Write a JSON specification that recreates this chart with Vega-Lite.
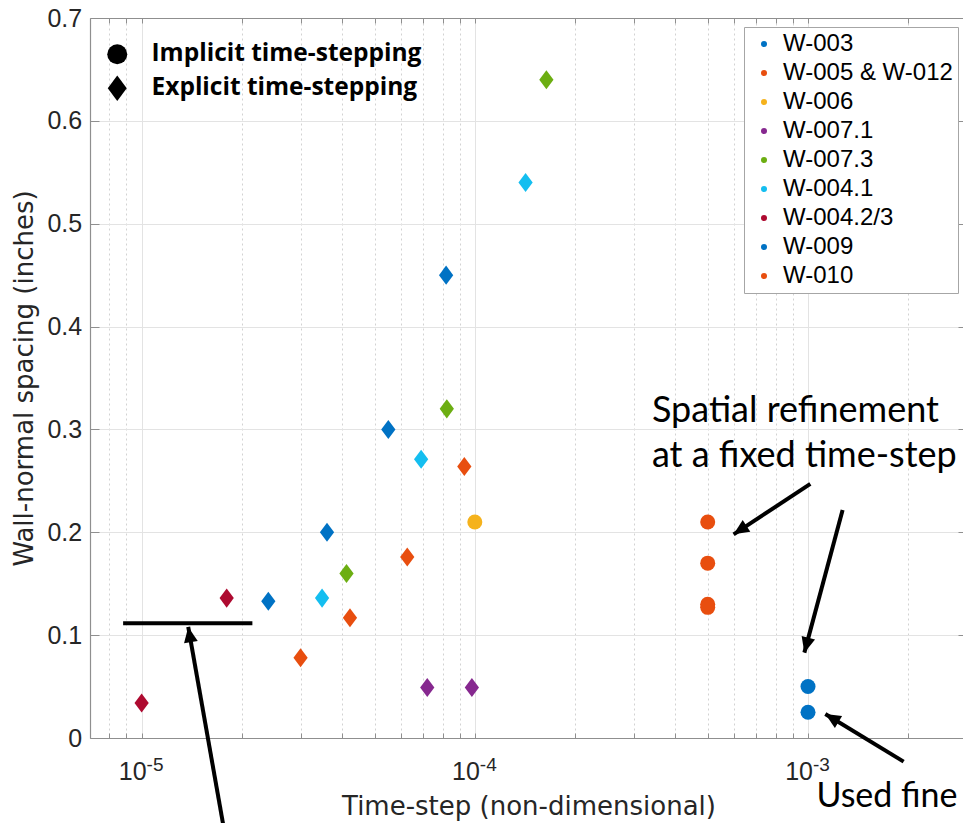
{
  "$schema": "https://vega.github.io/schema/vega-lite/v6.json",
  "width": 877,
  "height": 720,
  "autosize": {"type": "none"},
  "padding": {"left": 90, "top": 18, "right": 0, "bottom": 85},
  "background": "white",
  "config": {"view": {"stroke": null}},
  "datasets": {
    "runs": [
      {"series": "W-003", "method": "Implicit time-stepping", "timestep": 0.001, "spacing": 0.05},
      {"series": "W-003", "method": "Implicit time-stepping", "timestep": 0.001, "spacing": 0.025},
      {"series": "W-005 & W-012", "method": "Implicit time-stepping", "timestep": 0.0005, "spacing": 0.21},
      {"series": "W-005 & W-012", "method": "Implicit time-stepping", "timestep": 0.0005, "spacing": 0.17},
      {"series": "W-005 & W-012", "method": "Implicit time-stepping", "timestep": 0.0005, "spacing": 0.13},
      {"series": "W-005 & W-012", "method": "Implicit time-stepping", "timestep": 0.0005, "spacing": 0.127},
      {"series": "W-006", "method": "Implicit time-stepping", "timestep": 0.0001, "spacing": 0.21},
      {"series": "W-007.1", "method": "Explicit time-stepping", "timestep": 0.000072, "spacing": 0.049},
      {"series": "W-007.1", "method": "Explicit time-stepping", "timestep": 0.000098, "spacing": 0.049},
      {"series": "W-007.3", "method": "Explicit time-stepping", "timestep": 0.0000412, "spacing": 0.16},
      {"series": "W-007.3", "method": "Explicit time-stepping", "timestep": 0.0000824, "spacing": 0.32},
      {"series": "W-007.3", "method": "Explicit time-stepping", "timestep": 0.000164, "spacing": 0.64},
      {"series": "W-004.1", "method": "Explicit time-stepping", "timestep": 0.0000348, "spacing": 0.136},
      {"series": "W-004.1", "method": "Explicit time-stepping", "timestep": 0.000069, "spacing": 0.271},
      {"series": "W-004.1", "method": "Explicit time-stepping", "timestep": 0.000142, "spacing": 0.54},
      {"series": "W-004.2/3", "method": "Explicit time-stepping", "timestep": 0.00001, "spacing": 0.034},
      {"series": "W-004.2/3", "method": "Explicit time-stepping", "timestep": 0.000018, "spacing": 0.136},
      {"series": "W-009", "method": "Explicit time-stepping", "timestep": 0.000024, "spacing": 0.133},
      {"series": "W-009", "method": "Explicit time-stepping", "timestep": 0.000036, "spacing": 0.2},
      {"series": "W-009", "method": "Explicit time-stepping", "timestep": 0.000055, "spacing": 0.3},
      {"series": "W-009", "method": "Explicit time-stepping", "timestep": 0.000082, "spacing": 0.45},
      {"series": "W-010", "method": "Explicit time-stepping", "timestep": 0.00003, "spacing": 0.078},
      {"series": "W-010", "method": "Explicit time-stepping", "timestep": 0.0000422, "spacing": 0.117},
      {"series": "W-010", "method": "Explicit time-stepping", "timestep": 0.0000627, "spacing": 0.176},
      {"series": "W-010", "method": "Explicit time-stepping", "timestep": 0.000093, "spacing": 0.264}
    ],
    "decades": [
      {"tick": 0.00001, "exp": "-5"},
      {"tick": 0.0001, "exp": "-4"},
      {"tick": 0.001, "exp": "-3"}
    ],
    "notes": [
      {"x": 0.00034, "y": 0.3075, "text": "Spatial refinement"},
      {"x": 0.00034, "y": 0.2638, "text": "at a fixed time-step"}
    ],
    "callout": [
      {"x": 0.00106, "y": -0.067, "text": "Used fine"}
    ],
    "arrows": [
      {"x0": 0.001016, "y0": 0.247, "x1": 0.000598, "y1": 0.198},
      {"x0": 0.00127, "y0": 0.2217, "x1": 0.000975, "y1": 0.083},
      {"x0": 0.001936, "y0": -0.023, "x1": 0.001127, "y1": 0.0233},
      {"x0": 0.00001835, "y0": -0.1186, "x1": 0.0000138, "y1": 0.108}
    ],
    "bar": [
      {"x0": 0.0000088, "x1": 0.0000215, "y": 0.1115}
    ]
  },
  "layer": [
    {
      "data": {"name": "runs"},
      "mark": {"type": "point", "filled": true, "opacity": 1, "strokeWidth": 0, "size": 225},
      "encoding": {
        "x": {
          "field": "timestep",
          "type": "quantitative",
          "scale": {"type": "log", "domain": [0.000007, 0.003], "nice": false},
          "axis": {
            "orient": "bottom",
            "values": [0.000008, 0.000009, 0.00001, 0.00002, 0.00003, 0.00004, 0.00005, 0.00006, 0.00007, 0.00008, 0.00009, 0.0001, 0.0002, 0.0003, 0.0004, 0.0005, 0.0006, 0.0007, 0.0008, 0.0009, 0.001, 0.002, 0.003],
            "labels": false,
            "tickSize": -5,
            "tickColor": "#8F8F8F",
            "tickWidth": 1,
            "domainColor": "#8F8F8F",
            "domainWidth": 1.2,
            "grid": true,
            "gridWidth": 1,
            "gridColor": {"condition": {"test": "abs(log(datum.value)/LN10 - round(log(datum.value)/LN10)) < 0.001", "value": "#E3E3E3"}, "value": "#D2D2D2"},
            "gridDash": {"condition": {"test": "abs(log(datum.value)/LN10 - round(log(datum.value)/LN10)) < 0.001", "value": []}, "value": [2, 3]},
            "title": "Time-step (non-dimensional)",
            "titleFont": "DejaVu Sans",
            "titleFontSize": 26,
            "titleFontWeight": "normal",
            "titleColor": "#262626",
            "titlePadding": 55
          }
        },
        "y": {
          "field": "spacing",
          "type": "quantitative",
          "scale": {"domain": [0, 0.7], "nice": false, "zero": false},
          "axis": {
            "orient": "left",
            "values": [0, 0.1, 0.2, 0.3, 0.4, 0.5, 0.6, 0.7],
            "format": ".1~f",
            "tickSize": -9,
            "tickColor": "#8F8F8F",
            "tickWidth": 1,
            "domainColor": "#8F8F8F",
            "domainWidth": 1.2,
            "labelPadding": 17.3,
            "labelFont": "Liberation Sans",
            "labelFontSize": 25,
            "labelColor": "#262626",
            "grid": true,
            "gridColor": "#E3E3E3",
            "gridWidth": 1,
            "title": "Wall-normal spacing (inches)",
            "titleFont": "DejaVu Sans",
            "titleFontSize": 26,
            "titleFontWeight": "normal",
            "titleColor": "#262626",
            "titlePadding": 9
          }
        },
        "color": {
          "field": "series",
          "type": "nominal",
          "scale": {
            "domain": ["W-003", "W-005 & W-012", "W-006", "W-007.1", "W-007.3", "W-004.1", "W-004.2/3", "W-009", "W-010"],
            "range": ["#0072C4", "#E84E0F", "#F5B21C", "#86288F", "#6CAE12", "#14BEF0", "#AE0A30", "#0072C4", "#E84E0F"]
          },
          "legend": {
            "orient": "top-right",
            "offset": 9,
            "title": null,
            "padding": 5,
            "strokeColor": "#A6A6A6",
            "fillColor": "white",
            "labelFont": "Liberation Sans",
            "labelFontSize": 24,
            "labelColor": "#000000",
            "labelLimit": 400,
            "symbolSize": 36,
            "symbolStrokeWidth": 0,
            "symbolOffset": 3,
            "labelOffset": 7,
            "rowPadding": 5,
            "encode": {
              "symbols": {
                "update": {
                  "shape": {"signal": "indexof(['W-003', 'W-005 & W-012', 'W-006'], datum.label) >= 0 ? 'circle' : 'M0,-1.27L0.95,0L0,1.27L-0.95,0Z'"}
                }
              }
            }
          }
        },
        "shape": {
          "field": "method",
          "type": "nominal",
          "scale": {
            "domain": ["Implicit time-stepping", "Explicit time-stepping"],
            "range": ["circle", "M0,-1.27L0.95,0L0,1.27L-0.95,0Z"]
          },
          "legend": {
            "orient": "none",
            "legendX": 15,
            "legendY": 24,
            "title": null,
            "padding": 0,
            "labelFont": "Open Sans",
            "labelFontWeight": "bold",
            "labelFontSize": 24.5,
            "labelColor": "#000000",
            "labelLimit": 400,
            "symbolSize": 400,
            "symbolFillColor": "#000000",
            "symbolStrokeWidth": 0,
            "labelOffset": 22,
            "rowPadding": 9,
            "encode": {
              "symbols": {
                "update": {
                  "fill": {"value": "#000000"},
                  "size": {"value": 400},
                  "shape": {"signal": "datum.value === 'Implicit time-stepping' ? 'circle' : 'M0,-0.9L1,0L0,0.9L-1,0Z'"}
                }
              }
            }
          }
        }
      }
    },
    {
      "data": {"name": "arrows"},
      "mark": {"type": "rule", "color": "#000000", "strokeWidth": 4, "clip": false},
      "encoding": {
        "x": {
          "field": "x0",
          "type": "quantitative",
          "axis": {
            "orient": "top",
            "values": [0.000008, 0.000009, 0.00001, 0.00002, 0.00003, 0.00004, 0.00005, 0.00006, 0.00007, 0.00008, 0.00009, 0.0001, 0.0002, 0.0003, 0.0004, 0.0005, 0.0006, 0.0007, 0.0008, 0.0009, 0.001, 0.002, 0.003],
            "labels": false,
            "grid": false,
            "title": null,
            "tickSize": -5,
            "tickColor": "#8F8F8F",
            "tickWidth": 1,
            "domainColor": "#8F8F8F",
            "domainWidth": 1.2
          }
        },
        "y": {
          "field": "y0",
          "type": "quantitative",
          "axis": {
            "orient": "right",
            "values": [0, 0.1, 0.2, 0.3, 0.4, 0.5, 0.6, 0.7],
            "labels": false,
            "grid": false,
            "title": null,
            "tickSize": -9,
            "tickColor": "#8F8F8F",
            "tickWidth": 1,
            "domainColor": "#8F8F8F",
            "domainWidth": 1.2
          }
        },
        "x2": {"field": "x1"},
        "y2": {"field": "y1"}
      }
    },
    {
      "data": {"name": "arrows"},
      "mark": {
        "type": "point",
        "filled": true,
        "opacity": 1,
        "color": "#000000",
        "strokeWidth": 0,
        "size": 950,
        "clip": false,
        "shape": "M0,0L0.45,1L-0.45,1Z",
        "angle": {"expr": "atan2(scale('x', datum.x1) - scale('x', datum.x0), scale('y', datum.y0) - scale('y', datum.y1)) * 180 / PI"}
      },
      "encoding": {
        "x": {"field": "x1", "type": "quantitative", "axis": null},
        "y": {"field": "y1", "type": "quantitative", "axis": null}
      }
    },
    {
      "data": {"name": "bar"},
      "mark": {"type": "rule", "color": "#000000", "strokeWidth": 4, "clip": false},
      "encoding": {
        "x": {"field": "x0", "type": "quantitative", "axis": null},
        "x2": {"field": "x1"},
        "y": {"field": "y", "type": "quantitative", "axis": null}
      }
    },
    {
      "data": {"name": "notes"},
      "mark": {"type": "text", "align": "left", "baseline": "alphabetic", "font": "Lato", "fontSize": 36, "color": "#000000", "clip": false},
      "encoding": {
        "x": {"field": "x", "type": "quantitative", "axis": null},
        "y": {"field": "y", "type": "quantitative", "axis": null},
        "text": {"field": "text"}
      }
    },
    {
      "data": {"name": "callout"},
      "mark": {"type": "text", "align": "left", "baseline": "alphabetic", "font": "Lato", "fontSize": 34, "color": "#000000", "clip": false},
      "encoding": {
        "x": {"field": "x", "type": "quantitative", "axis": null},
        "y": {"field": "y", "type": "quantitative", "axis": null},
        "text": {"field": "text"}
      }
    },
    {
      "data": {"name": "decades"},
      "mark": {"type": "text", "text": "10", "align": "right", "baseline": "alphabetic", "dx": 5, "dy": 42, "font": "Liberation Sans", "fontSize": 25, "color": "#262626", "clip": false},
      "encoding": {
        "x": {"field": "tick", "type": "quantitative", "axis": null},
        "y": {"datum": 0, "type": "quantitative", "axis": null}
      }
    },
    {
      "data": {"name": "decades"},
      "mark": {"type": "text", "align": "left", "baseline": "alphabetic", "dx": 5, "dy": 33, "font": "Liberation Sans", "fontSize": 19, "color": "#262626", "clip": false},
      "encoding": {
        "x": {"field": "tick", "type": "quantitative", "axis": null},
        "y": {"datum": 0, "type": "quantitative", "axis": null},
        "text": {"field": "exp"}
      }
    }
  ],
  "resolve": {"axis": {"x": "independent", "y": "independent"}}
}
